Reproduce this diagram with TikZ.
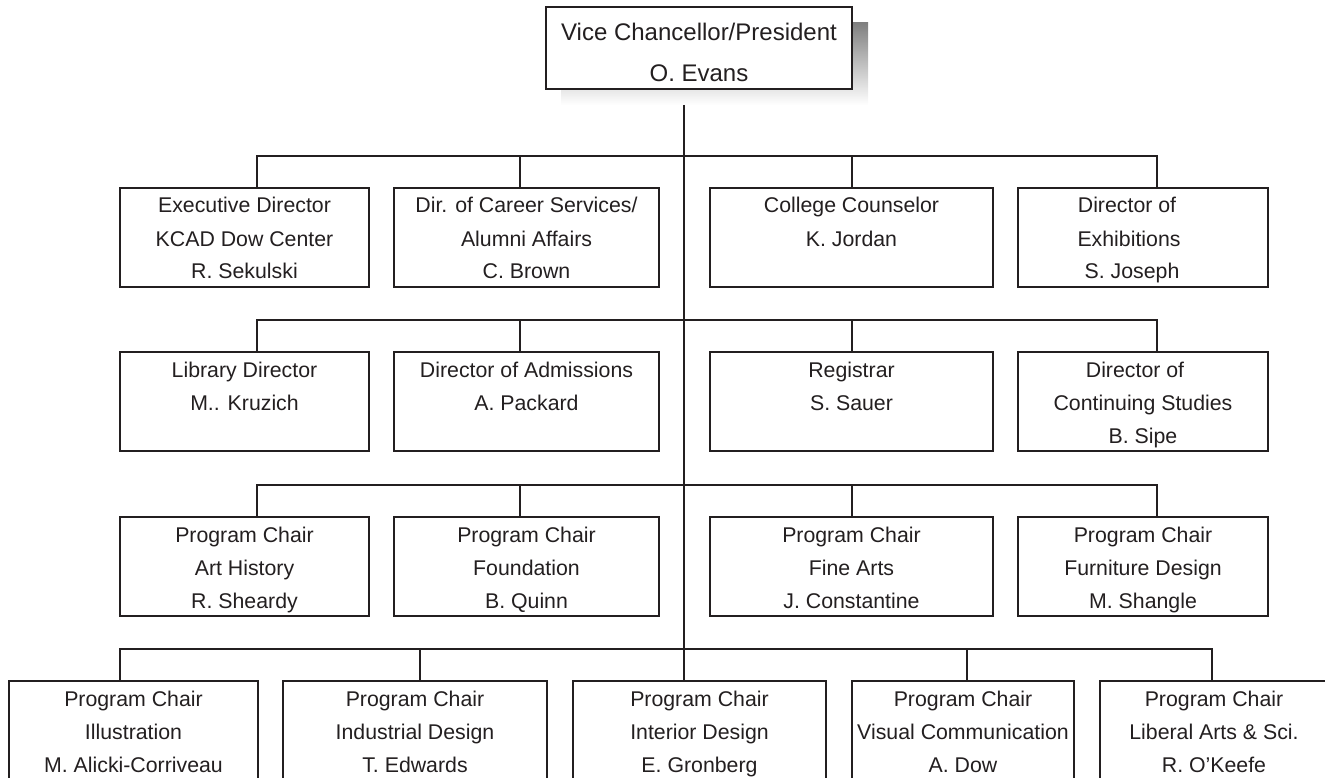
\documentclass[tikz,border=0pt]{standalone}
\usepackage{fontspec}
\setmainfont{Liberation Sans}
\definecolor{ink}{HTML}{231F20}
\definecolor{shade}{HTML}{808285}
\newcommand{\bt}[3]{\parbox[c][#2][t]{#1}{\centering\fontsize{21.3pt}{33pt}\selectfont\rule{0pt}{25pt}#3\par}}
\newcommand{\tr}[1]{\hspace{#1}\mbox{}}
\begin{document}
\begin{tikzpicture}[x=1pt,y=-1pt,
  box/.style={draw=ink, line width=2.9pt, inner sep=0pt, outer sep=0pt, anchor=north west, text=ink, fill=white},
  conn/.style={draw=ink, line width=2.9pt}]
\useasboundingbox (0,0) rectangle (1325,778);
\clip (0,0) rectangle (1325,778);

% shadow of the top box
\fill[shade] (561,23) rectangle (868,105);
% top
\node[box] (top) at (546,7) {\parbox[c][82pt][t]{306pt}{\centering\fontsize{24pt}{41pt}\selectfont\rule{0pt}{34pt}Vice Chancellor/President\\O. Evans\par}};

% row 1
\node[box] (a1) at (120,188)  {\bt{249pt}{99pt}{Executive Director\\KCAD Dow Center\\R. Sekulski}};
\node[box] (b1) at (394,188)  {\bt{265pt}{99pt}{Dir. of Career Services/\\Alumni Affairs\\C. Brown}};
\node[box] (c1) at (710,188)  {\bt{283pt}{99pt}{College Counselor\\K. Jordan}};
\node[box] (d1) at (1018,188) {\bt{250pt}{99pt}{Director of\tr{32pt}\\Exhibitions\tr{28pt}\\S. Joseph\tr{22pt}}};
% row 2
\node[box] (a2) at (120,352)  {\bt{249pt}{99pt}{Library Director\\M.. Kruzich}};
\node[box] (b2) at (394,352)  {\bt{265pt}{99pt}{Director of Admissions\\A. Packard}};
\node[box] (c2) at (710,352)  {\bt{283pt}{99pt}{Registrar\\S. Sauer}};
\node[box] (d2) at (1018,352) {\bt{250pt}{99pt}{Director of\tr{16pt}\\Continuing Studies\\B. Sipe}};
% row 3
\node[box] (a3) at (120,517)  {\bt{249pt}{99pt}{Program Chair\\Art History\\R. Sheardy}};
\node[box] (b3) at (394,517)  {\bt{265pt}{99pt}{Program Chair\\Foundation\\B. Quinn}};
\node[box] (c3) at (710,517)  {\bt{283pt}{99pt}{Program Chair\\Fine Arts\\J. Constantine}};
\node[box] (d3) at (1018,517) {\bt{250pt}{99pt}{Program Chair\\Furniture Design\\M. Shangle}};
% row 4
\node[box] (e1) at (9,681)    {\bt{249pt}{110pt}{Program Chair\\Illustration\\M. Alicki-Corriveau}};
\node[box] (e2) at (283,681)  {\bt{264pt}{110pt}{Program Chair\\Industrial Design\\T. Edwards}};
\node[box] (e3) at (573,681)  {\bt{253pt}{110pt}{Program Chair\\Interior Design\\E. Gronberg}};
\node[box] (e4) at (852,681)  {\bt{222pt}{110pt}{Program Chair\\Visual Communication\\A. Dow}};
\node[box] (e5) at (1100,681) {\bt{228pt}{110pt}{Program Chair\\Liberal Arts \& Sci.\\R. O'Keefe}};

% trunk, starting below the shadow
\coordinate (t0) at ([xshift=-15pt,yshift=-16pt]top.south);
\draw[conn] (t0) -- (t0 |- e3.north);

% buses rows 1-3
\foreach \r in {1,2,3}{
  \draw[conn] ([xshift=12.5pt]a\r.north) -- ++(0,-32) -| ([xshift=14pt]d\r.north);
  \draw[conn] ([xshift=-6.5pt]b\r.north) -- ++(0,-32);
  \draw[conn] ([xshift=0.5pt]c\r.north) -- ++(0,-32);
}
% bus row 4
\draw[conn] ([xshift=-13.5pt]e1.north) -- ++(0,-32) -| ([xshift=-2pt]e5.north);
\draw[conn] ([xshift=5pt]e2.north) -- ++(0,-32);
\draw[conn] ([xshift=4pt]e4.north) -- ++(0,-32);
\end{tikzpicture}
\end{document}
